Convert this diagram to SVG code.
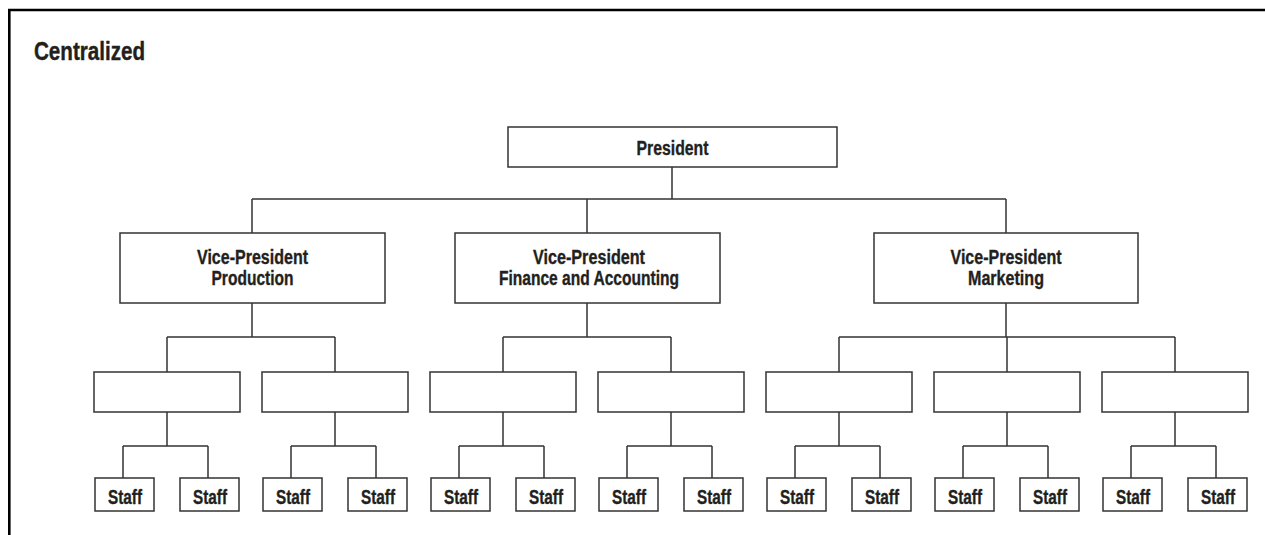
<svg xmlns="http://www.w3.org/2000/svg" width="1265" height="535" viewBox="0 0 1265 535">
<style>
.box{fill:#fff;stroke:#333;stroke-width:1.5}
.ln{fill:none;stroke:#333;stroke-width:1.5}
.t{font-family:"Liberation Sans",Arial,sans-serif;font-weight:bold;font-size:19.5px;fill:#231f20;stroke:#231f20;stroke-width:0.35;text-anchor:middle}
.title{font-family:"Liberation Sans",Arial,sans-serif;font-weight:bold;font-size:25.5px;fill:#231f20;stroke:#231f20;stroke-width:0.4}
</style>
<rect width="1265" height="535" fill="#fff"/>
<path d="M9.3 535 V10 H1265" fill="none" stroke="#000" stroke-width="2.6"/>
<text class="title" x="34" y="60" textLength="111" lengthAdjust="spacingAndGlyphs">Centralized</text>
<g id="connectors">
<path class="ln" d="M672 167 V199 M252 199 H1006 M252 199 V233 M587 199 V233 M1006 199 V233"/>
<path class="ln" d="M252 303 V337 M167 337 H335 M167 337 V372 M335 337 V372"/>
<path class="ln" d="M587 303 V337 M503 337 H671 M503 337 V372 M671 337 V372"/>
<path class="ln" d="M1006 303 V337 M839 337 H1175 M839 337 V372 M1007 337 V372 M1175 337 V372"/>
<path class="ln" d="M167 412 V446 M123 446 H208 M123 446 V478 M208 446 V478"/>
<path class="ln" d="M335 412 V446 M291 446 H376 M291 446 V478 M376 446 V478"/>
<path class="ln" d="M503 412 V446 M459 446 H544 M459 446 V478 M544 446 V478"/>
<path class="ln" d="M671 412 V446 M627 446 H712 M627 446 V478 M712 446 V478"/>
<path class="ln" d="M839 412 V446 M795 446 H880 M795 446 V478 M880 446 V478"/>
<path class="ln" d="M1007 412 V446 M963 446 H1048 M963 446 V478 M1048 446 V478"/>
<path class="ln" d="M1175 412 V446 M1131 446 H1216 M1131 446 V478 M1216 446 V478"/>
</g>
<g id="president">
<rect class="box" x="508" y="127" width="329" height="40"/>
<text class="t" x="672.5" y="155" textLength="72" lengthAdjust="spacingAndGlyphs">President</text>
</g>
<g id="vp-production">
<rect class="box" x="120" y="233" width="265" height="70"/>
<text class="t" x="252.5" y="264" textLength="111" lengthAdjust="spacingAndGlyphs">Vice-President</text>
<text class="t" x="252.5" y="285" textLength="82" lengthAdjust="spacingAndGlyphs">Production</text>
</g>
<g id="vp-finance">
<rect class="box" x="455" y="233" width="265" height="70"/>
<text class="t" x="589" y="264" textLength="112" lengthAdjust="spacingAndGlyphs">Vice-President</text>
<text class="t" x="589" y="285" textLength="180" lengthAdjust="spacingAndGlyphs">Finance and Accounting</text>
</g>
<g id="vp-marketing">
<rect class="box" x="874" y="233" width="264" height="70"/>
<text class="t" x="1006" y="264" textLength="111" lengthAdjust="spacingAndGlyphs">Vice-President</text>
<text class="t" x="1006" y="285" textLength="76" lengthAdjust="spacingAndGlyphs">Marketing</text>
</g>
<g id="mgr1"><rect class="box" x="94" y="372" width="146" height="40"/></g>
<g id="mgr2"><rect class="box" x="262" y="372" width="146" height="40"/></g>
<g id="mgr3"><rect class="box" x="430" y="372" width="146" height="40"/></g>
<g id="mgr4"><rect class="box" x="598" y="372" width="146" height="40"/></g>
<g id="mgr5"><rect class="box" x="766" y="372" width="146" height="40"/></g>
<g id="mgr6"><rect class="box" x="934" y="372" width="146" height="40"/></g>
<g id="mgr7"><rect class="box" x="1102" y="372" width="146" height="40"/></g>
<g id="staff1"><rect class="box" x="95" y="478" width="59" height="33"/><text class="t" x="125" y="504" textLength="34" lengthAdjust="spacingAndGlyphs">Staff</text></g>
<g id="staff2"><rect class="box" x="180" y="478" width="59" height="33"/><text class="t" x="210" y="504" textLength="34" lengthAdjust="spacingAndGlyphs">Staff</text></g>
<g id="staff3"><rect class="box" x="263" y="478" width="59" height="33"/><text class="t" x="293" y="504" textLength="34" lengthAdjust="spacingAndGlyphs">Staff</text></g>
<g id="staff4"><rect class="box" x="348" y="478" width="59" height="33"/><text class="t" x="378" y="504" textLength="34" lengthAdjust="spacingAndGlyphs">Staff</text></g>
<g id="staff5"><rect class="box" x="431" y="478" width="59" height="33"/><text class="t" x="461" y="504" textLength="34" lengthAdjust="spacingAndGlyphs">Staff</text></g>
<g id="staff6"><rect class="box" x="516" y="478" width="59" height="33"/><text class="t" x="546" y="504" textLength="34" lengthAdjust="spacingAndGlyphs">Staff</text></g>
<g id="staff7"><rect class="box" x="599" y="478" width="59" height="33"/><text class="t" x="629" y="504" textLength="34" lengthAdjust="spacingAndGlyphs">Staff</text></g>
<g id="staff8"><rect class="box" x="684" y="478" width="59" height="33"/><text class="t" x="714" y="504" textLength="34" lengthAdjust="spacingAndGlyphs">Staff</text></g>
<g id="staff9"><rect class="box" x="767" y="478" width="59" height="33"/><text class="t" x="797" y="504" textLength="34" lengthAdjust="spacingAndGlyphs">Staff</text></g>
<g id="staff10"><rect class="box" x="852" y="478" width="59" height="33"/><text class="t" x="882" y="504" textLength="34" lengthAdjust="spacingAndGlyphs">Staff</text></g>
<g id="staff11"><rect class="box" x="935" y="478" width="59" height="33"/><text class="t" x="965" y="504" textLength="34" lengthAdjust="spacingAndGlyphs">Staff</text></g>
<g id="staff12"><rect class="box" x="1020" y="478" width="59" height="33"/><text class="t" x="1050" y="504" textLength="34" lengthAdjust="spacingAndGlyphs">Staff</text></g>
<g id="staff13"><rect class="box" x="1103" y="478" width="59" height="33"/><text class="t" x="1133" y="504" textLength="34" lengthAdjust="spacingAndGlyphs">Staff</text></g>
<g id="staff14"><rect class="box" x="1188" y="478" width="59" height="33"/><text class="t" x="1218" y="504" textLength="34" lengthAdjust="spacingAndGlyphs">Staff</text></g>
</svg>
